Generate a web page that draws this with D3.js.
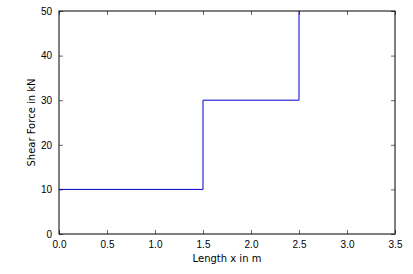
<!DOCTYPE html>
<html lang="en">
<head>
<meta charset="utf-8">
<title>Shear force</title>
<style>
  body { margin: 0; background: #fff; }
  svg { display: block; font-family: 'DejaVu Sans', sans-serif; }
  .axis text { font-size: 10px; fill: #000; }
  .axis path { stroke: none; }
  .axis line { stroke: #000; stroke-width: 0.6; }
  .label { font-size: 10px; fill: #000; }
</style>
</head>
<body>
<svg width="413" height="274"></svg>
<script src="https://d3js.org/d3.v7.min.js"></script>
<script>
var lengthX = [0, 1.5, 2.5];
var shearForce = [10, 30, 50];
var xTicks = [0, 0.5, 1, 1.5, 2, 2.5, 3, 3.5];
var yTicks = [0, 10, 20, 30, 40, 50];

var svg = d3.select('svg');
var mLeft = 59, mTop = 11, mRight = 395, mBottom = 234;
var width = mRight - mLeft, height = mBottom - mTop;

var x = d3.scaleLinear().domain([0, 3.5]).range([0, width]);
var y = d3.scaleLinear().domain([0, 50]).range([height, 0]);

var chart = svg.append('g').attr('transform', `translate(${mLeft}, ${mTop})`);

// ticks point inward on all four sides, labels only bottom and left
chart.append('g').attr('class', 'axis')
  .attr('transform', `translate(0, ${height})`)
  .call(d3.axisBottom(x).tickValues(xTicks).tickSize(-4).tickPadding(7).tickFormat(d3.format('.1f')));
chart.append('g').attr('class', 'axis')
  .call(d3.axisTop(x).tickValues(xTicks).tickSize(-4).tickFormat(''));
chart.append('g').attr('class', 'axis')
  .call(d3.axisLeft(y).tickValues(yTicks).tickSize(-4).tickPadding(7));
chart.append('g').attr('class', 'axis')
  .attr('transform', `translate(${width}, 0)`)
  .call(d3.axisRight(y).tickValues(yTicks).tickSize(-4).tickFormat(''));

var data = lengthX.map((d, i) => ({ x: d, y: shearForce[i] }));
var line = d3.line().x(d => x(d.x)).y(d => y(d.y)).curve(d3.curveStepAfter);

chart.append('path')
  .datum(data)
  .attr('d', line)
  .attr('fill', 'none')
  .attr('stroke', '#0000d0')
  .attr('stroke-width', 1);

chart.append('rect')
  .attr('width', width).attr('height', height)
  .attr('fill', 'none').attr('stroke', '#000').attr('stroke-width', 1);

svg.append('text').attr('class', 'label')
  .attr('x', mLeft + width / 2).attr('y', 262)
  .attr('text-anchor', 'middle')
  .text('Length x in m');

svg.append('text').attr('class', 'label')
  .attr('transform', `translate(35, ${mTop + height / 2}) rotate(-90)`)
  .attr('text-anchor', 'middle')
  .text('Shear Force in kN');
</script>
</body>
</html>
